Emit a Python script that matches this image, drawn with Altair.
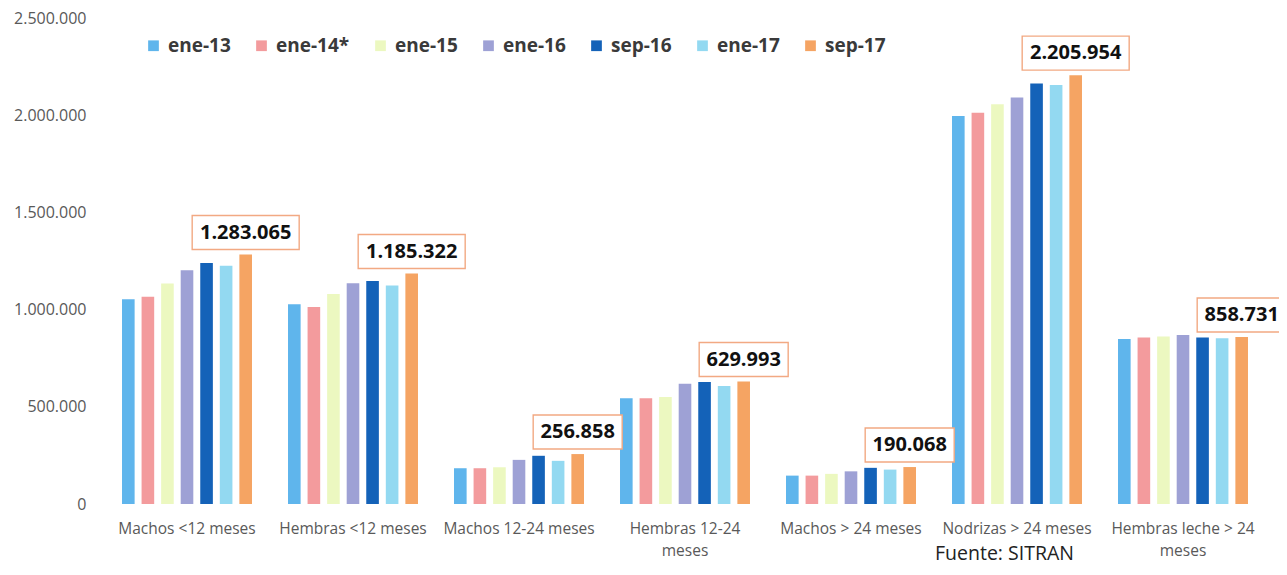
import altair as alt
import pandas as pd

categories = ["Machos <12 meses", "Hembras <12 meses", "Machos 12-24 meses",
              "Hembras 12-24 meses", "Machos > 24 meses", "Nodrizas > 24 meses",
              "Hembras leche > 24 meses"]
series = ["ene-13", "ene-14*", "ene-15", "ene-16", "sep-16", "ene-17", "sep-17"]
colors = ["#5fb5ec", "#f39b9d", "#ecf8c0", "#9ea1d5", "#1462b8", "#93d9f1", "#f5a463"]

ene13 = [1053000, 1027000, 184000, 544000, 146000, 1996000, 849000]
ene14 = [1066000, 1013000, 184000, 544000, 146000, 2013000, 857000]
ene15 = [1134000, 1080000, 189000, 551000, 155000, 2056000, 862000]
ene16 = [1203000, 1136000, 227000, 618000, 168000, 2091000, 869000]
sep16 = [1240000, 1147000, 248000, 628000, 186000, 2163000, 857000]
ene17 = [1226000, 1124000, 222000, 607000, 177000, 2155000, 853000]
sep17 = [1283065, 1185322, 256858, 629993, 190068, 2205954, 858731]

y_ticks = [0, 500000, 1000000, 1500000, 2000000, 2500000]
source_note = "Fuente: SITRAN"

values_by_series = [ene13, ene14, ene15, ene16, sep16, ene17, sep17]
rows = []
for s, vals in zip(series, values_by_series):
    for c, v in zip(categories, vals):
        rows.append({"categoria": c, "serie": s, "valor": v,
                     "etiqueta": f"{v:,}".replace(",", ".")})
df = pd.DataFrame(rows)

x_enc = alt.X("categoria:N", sort=categories, title=None,
              scale=alt.Scale(paddingInner=0.217, paddingOuter=0.1085),
              axis=alt.Axis(labelAngle=0, domain=False, ticks=False,
                            labelFont="Open Sans", labelFontSize=15.5,
                            labelColor="#595959", labelPadding=17,
                            labelLineHeight=22, labelLimit=400,
                            labelExpr="datum.label == 'Hembras 12-24 meses' ? ['Hembras 12-24', 'meses'] : datum.label == 'Hembras leche > 24 meses' ? ['Hembras leche > 24', 'meses'] : datum.label"))
xo_enc = alt.XOffset("serie:N", sort=series,
                     scale=alt.Scale(domain=series, paddingInner=0.355, paddingOuter=0))
y_enc = alt.Y("valor:Q", title=None,
              scale=alt.Scale(domain=[0, 2500000], nice=False),
              axis=alt.Axis(values=y_ticks, grid=False, domain=False, ticks=False,
                            labelFont="Open Sans", labelFontSize=16,
                            labelColor="#595959", labelPadding=18,
                            labelExpr="replace(replace(format(datum.value, ','), ',', '.'), ',', '.')"))

bars = alt.Chart(df).mark_bar().encode(
    x=x_enc,
    xOffset=xo_enc,
    y=y_enc,
    color=alt.Color("serie:N", sort=series,
                    scale=alt.Scale(domain=series, range=colors),
                    legend=alt.Legend(title=None, orient="none", direction="horizontal",
                                      columns=7, legendX=40, legendY=18,
                                      symbolType="square", symbolSize=115,
                                      symbolStrokeWidth=0, labelFont="Open Sans",
                                      labelFontSize=19, labelFontWeight="bold",
                                      labelColor="#3a3a3a", columnPadding=21,
                                      labelOffset=5)),
)

top = alt.Chart(df).transform_filter(alt.datum.serie == "sep-17")

box_long = top.transform_filter("length(datum.etiqueta) > 7").mark_point(
    shape="M-1.07,-0.78H1.07V-0.1H-1.07Z", size=10000, filled=False,
    fill="white", fillOpacity=1, stroke="#f2a983", strokeWidth=1.4, opacity=1
).encode(x=alt.X("categoria:N", sort=categories), xOffset=alt.XOffset("serie:N", sort=series), y="valor:Q")

box_short = top.transform_filter("length(datum.etiqueta) <= 7").mark_point(
    shape="M-0.89,-0.78H0.89V-0.1H-0.89Z", size=10000, filled=False,
    fill="white", fillOpacity=1, stroke="#f2a983", strokeWidth=1.4, opacity=1
).encode(x=alt.X("categoria:N", sort=categories), xOffset=alt.XOffset("serie:N", sort=series), y="valor:Q")

labels = top.mark_text(font="Open Sans", fontSize=20, fontWeight="bold",
                       color="#111111", dy=-22, baseline="middle").encode(
    x=alt.X("categoria:N", sort=categories),
    xOffset=alt.XOffset("serie:N", sort=series),
    y="valor:Q",
    text="etiqueta:N",
)

note = alt.Chart(pd.DataFrame({"t": [source_note]})).mark_text(
    font="Open Sans", fontSize=19.5, color="#222222", align="left", baseline="middle"
).encode(text="t:N", x=alt.value(831), y=alt.value(536))

chart = alt.layer(bars, box_long, box_short, labels, note).properties(
    width=1162, height=486,
    autosize=alt.AutoSizeParams(type="none"),
    padding={"left": 96, "top": 10, "right": 13, "bottom": 68},
).configure_view(stroke=None)

chart.save("out.html", embed_options={"renderer": "svg", "actions": False})
